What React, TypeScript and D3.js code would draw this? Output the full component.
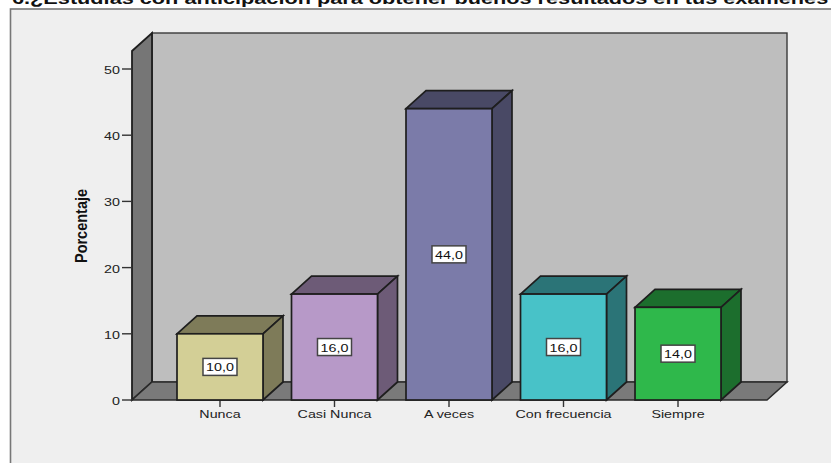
import React from "react";
import * as d3 from "d3";

// Survey responses, percentage per answer
const categories = ["Nunca", "Casi Nunca", "A veces", "Con frecuencia", "Siempre"];
const percentages = [10, 16, 44, 16, 14];
const barColors = ["#d3cf96", "#b799c8", "#7b7ba9", "#48c2c8", "#2fb84b"];
const yTicks = [0, 10, 20, 30, 40, 50];
const title = "6.¿Estudias con anticipación para obtener buenos resultados en tus exámenes";
const yLabel = "Porcentaje";

const width = 831;
const height = 463;
const depthX = 20;
const depthY = 18;
const font = "'Liberation Sans', Arial, sans-serif";
const stretch = 1.3;

const y = d3.scaleLinear().domain([0, 50]).range([400, 69]);
const x = d3.scaleBand<string>().domain(categories).range([177, 721]).paddingInner(0.249).paddingOuter(0);

const wallLeft = 132;
const wallRight = 767;
const wallTop = 51;
const edge = "#1e1e1e";

const poly = (pts: [number, number][]) => d3.line()(pts) + "Z";

function WideText({ x: tx, y: ty, size, children, anchor = "middle", fill = "#222" }: any) {
  return (
    <text
      transform={`translate(${tx},${ty}) scale(${stretch},1)`}
      fontFamily={font}
      fontSize={size}
      textAnchor={anchor}
      fill={fill}
    >
      {children}
    </text>
  );
}

export default function App() {
  const base = y(0);
  return (
    <svg
      width={width}
      height={height}
      style={{ position: "absolute", left: 0, top: 0, display: "block" }}
    >
      <rect width={width} height={height} fill="#ffffff" />
      <rect x={10.5} y={9} width={width} height={height} fill="#efefef" stroke="#777" strokeWidth={1.6} />
      <text
        transform={`translate(12,3.5) scale(1.277,1)`}
        fontFamily={font}
        fontSize={17}
        fontWeight="bold"
        fill="#111"
      >
        {title}
      </text>

      {/* Back wall, side wall and floor of the 3D box */}
      <rect
        x={wallLeft + depthX}
        y={wallTop - depthY}
        width={wallRight - wallLeft}
        height={base - wallTop}
        fill="#bebebe"
        stroke="#3a3a3a"
        strokeWidth={1.4}
      />
      <path
        d={poly([
          [wallLeft, wallTop],
          [wallLeft + depthX, wallTop - depthY],
          [wallLeft + depthX, base - depthY],
          [wallLeft, base],
        ])}
        fill="#767676"
        stroke={edge}
        strokeWidth={1.8}
      />
      <path
        d={poly([
          [wallLeft, base],
          [wallLeft + depthX, base - depthY],
          [wallRight + depthX, base - depthY],
          [wallRight, base],
        ])}
        fill="#7a7a7a"
        stroke="#2a2a2a"
        strokeWidth={1.5}
      />

      {/* Value axis */}
      {yTicks.map((t) => (
        <g key={t}>
          <line x1={122} x2={wallLeft} y1={y(t)} y2={y(t)} stroke="#333" strokeWidth={1.4} />
          <WideText x={120} y={y(t) + 5} size={11} anchor="end">
            {t}
          </WideText>
        </g>
      ))}
      <text
        transform={`translate(86.5,226) rotate(-90) scale(1,1.2)`}
        fontFamily={font}
        fontSize={14.5}
        fontWeight="bold"
        textAnchor="middle"
        fill="#111"
      >
        {yLabel}
      </text>

      {/* Bars with side and top faces */}
      {categories.map((c, i) => {
        const v = percentages[i];
        const left = x(c)!;
        const right = left + x.bandwidth();
        const top = y(v);
        const shade = d3.rgb(barColors[i]).darker(1.45).formatHex();
        const mid = (left + right) / 2;
        const boxY = y(v / 2);
        return (
          <g key={c}>
            <line x1={mid} x2={mid} y1={base} y2={base + 7} stroke="#333" strokeWidth={1.4} />
            <WideText x={mid} y={417.5} size={11}>
              {c}
            </WideText>
            <path
              d={poly([
                [left, top],
                [left + depthX, top - depthY],
                [right + depthX, top - depthY],
                [right, top],
              ])}
              fill={shade}
              stroke={edge}
              strokeWidth={1.7}
            />
            <path
              d={poly([
                [right, top],
                [right + depthX, top - depthY],
                [right + depthX, base - depthY],
                [right, base],
              ])}
              fill={shade}
              stroke={edge}
              strokeWidth={1.7}
            />
            <rect
              x={left}
              y={top}
              width={x.bandwidth()}
              height={base - top}
              fill={barColors[i]}
              stroke={edge}
              strokeWidth={1.7}
            />
            <rect x={mid - 17} y={boxY - 8.5} width={34} height={17} fill="#fff" stroke="#444" strokeWidth={1.5} />
            <WideText x={mid} y={boxY + 4.5} size={11} fill="#111">
              {v.toFixed(1).replace(".", ",")}
            </WideText>
          </g>
        );
      })}
    </svg>
  );
}
